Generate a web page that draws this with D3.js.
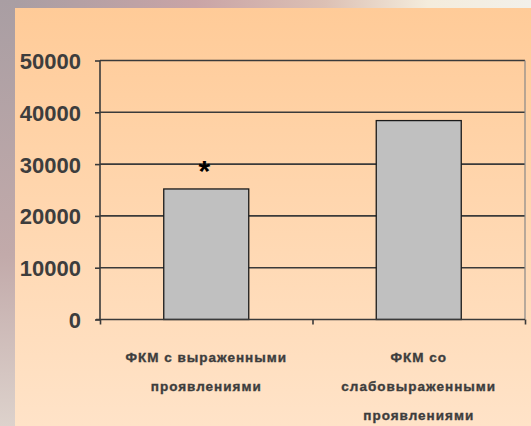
<!DOCTYPE html>
<html>
<head>
<meta charset="utf-8">
<script src="https://cdn.jsdelivr.net/npm/d3@7"></script>
<style>
  body { margin: 0; padding: 0; overflow: hidden; }
  svg { display: block; }
</style>
</head>
<body>
<svg width="531" height="426"></svg>
<script>
// data
var categories = [["ФКМ с выраженными", "проявлениями"], ["ФКМ со", "слабовыраженными", "проявлениями"]];
var values = [25200, 38400];
var marks = ["*", ""];
var yTicks = [0, 10000, 20000, 30000, 40000, 50000];

var svg = d3.select("svg"),
  width = +svg.attr("width"),
  height = +svg.attr("height");

var defs = svg.append("defs");
var bg = defs.append("linearGradient").attr("id", "bg").attr("x1", 0).attr("y1", 0).attr("x2", 0).attr("y2", 1);
bg.append("stop").attr("offset", "0%").attr("stop-color", "#ffcb98");
bg.append("stop").attr("offset", "100%").attr("stop-color", "#ffe3c8");

var side = defs.append("linearGradient").attr("id", "side").attr("x1", 0).attr("y1", 0).attr("x2", 0).attr("y2", 1);
side.append("stop").attr("offset", "0%").attr("stop-color", "#a99ea3");
side.append("stop").attr("offset", "60%").attr("stop-color", "#c2aaaa");
side.append("stop").attr("offset", "100%").attr("stop-color", "#ddd2cc");

var topg = defs.append("linearGradient").attr("id", "topg").attr("x1", 0).attr("y1", 0).attr("x2", 1).attr("y2", 0);
topg.append("stop").attr("offset", "0%").attr("stop-color", "#a99ea3");
topg.append("stop").attr("offset", "35%").attr("stop-color", "#c9a4a6");
topg.append("stop").attr("offset", "60%").attr("stop-color", "#dcc0b4");
topg.append("stop").attr("offset", "80%").attr("stop-color", "#f4ecdc");
topg.append("stop").attr("offset", "100%").attr("stop-color", "#f2f0ea");

// frame
svg.append("rect").attr("width", width).attr("height", height).attr("fill", "url(#side)");
svg.append("rect").attr("x", 15).attr("width", width - 15).attr("height", 8).attr("fill", "url(#topg)");
svg.append("rect").attr("x", 15).attr("y", 8).attr("width", width - 15).attr("height", height - 8).attr("fill", "url(#bg)");

var plotLeft = 100, plotRight = 525, plotTop = 60.5, plotBottom = 319.5;

var x = d3.scaleBand()
  .domain(d3.range(values.length))
  .range([plotLeft, plotRight])
  .paddingInner(0.6)
  .paddingOuter(0.3);

var y = d3.scaleLinear()
  .domain([0, 50000])
  .range([plotBottom, plotTop]);

// gridlines
svg.append("g")
  .selectAll("line")
  .data(yTicks.slice(1))
  .enter()
  .append("line")
    .attr("x1", plotLeft).attr("x2", plotRight)
    .attr("y1", function(d) { return y(d); })
    .attr("y2", function(d) { return y(d); })
    .attr("stroke", "#3a3a3a")
    .attr("stroke-width", 1.6);

// right border
svg.append("line")
  .attr("x1", plotRight).attr("x2", plotRight)
  .attr("y1", plotTop).attr("y2", plotBottom)
  .attr("stroke", "#888").attr("stroke-width", 1.2);

// bars
svg.append("g")
  .selectAll("rect")
  .data(values)
  .enter()
  .append("rect")
    .attr("x", function(d, i) { return x(i); })
    .attr("y", function(d) { return y(d); })
    .attr("width", x.bandwidth())
    .attr("height", function(d) { return y(0) - y(d); })
    .attr("fill", "#c0c0c0")
    .attr("stroke", "#1a1a1a")
    .attr("stroke-width", 1.3);

// asterisk
svg.append("g")
  .selectAll("text")
  .data(values)
  .enter()
  .append("text")
    .attr("x", function(d, i) { return x(i) + x.bandwidth() / 2 - 2; })
    .attr("y", function(d) { return y(d) - 8; })
    .attr("text-anchor", "middle")
    .style("font-family", "Liberation Sans, Arial, sans-serif")
    .style("font-weight", "bold")
    .style("font-size", "30px")
    .attr("fill", "#000")
    .text(function(d, i) { return marks[i]; });

// y axis
var yAxis = svg.append("g")
  .attr("transform", "translate(" + plotLeft + ",0)")
  .call(d3.axisLeft(y).tickValues(yTicks).tickSize(5).tickPadding(14).tickFormat(d3.format("d")));
yAxis.select(".domain").attr("stroke", "#3a3a3a").attr("stroke-width", 1.6).attr("d", "M0," + plotTop + "V" + plotBottom);
yAxis.selectAll(".tick line").attr("stroke", "#3a3a3a").attr("stroke-width", 1.6);
yAxis.selectAll("text")
  .attr("fill", "#3d3d3d")
  .attr("dy", "0.36em")
  .style("font-family", "Liberation Sans, Arial, sans-serif")
  .style("font-weight", "bold")
  .style("font-size", "22px");

// x axis
var xb = d3.scaleLinear().domain([0, values.length]).range([plotLeft, plotRight]);
var xAxis = svg.append("g")
  .attr("transform", "translate(0," + plotBottom + ")")
  .call(d3.axisBottom(xb).tickValues(d3.range(values.length + 1)).tickSize(5).tickFormat(""));
xAxis.select(".domain").attr("stroke", "#3a3a3a").attr("stroke-width", 1.6).attr("d", "M" + (plotLeft - 4) + ",0H" + plotRight);
xAxis.selectAll(".tick line").attr("stroke", "#3a3a3a").attr("stroke-width", 1.6);

// category labels
var lab = svg.append("g")
  .selectAll("text")
  .data(categories)
  .enter()
  .append("text")
    .attr("text-anchor", "middle")
    .attr("fill", "#3d3d3d")
    .attr("stroke", "#3d3d3d")
    .attr("stroke-width", 0.35)
    .style("font-family", "Liberation Sans, Arial, sans-serif")
    .style("font-weight", "bold")
    .style("font-size", "13.5px")
    .style("letter-spacing", "1px");
lab.each(function(d, i) {
  var t = d3.select(this);
  d.forEach(function(line, j) {
    t.append("tspan")
      .attr("x", x(i) + x.bandwidth() / 2)
      .attr("y", 362 + j * 29)
      .text(line);
  });
});
</script>
</body>
</html>
